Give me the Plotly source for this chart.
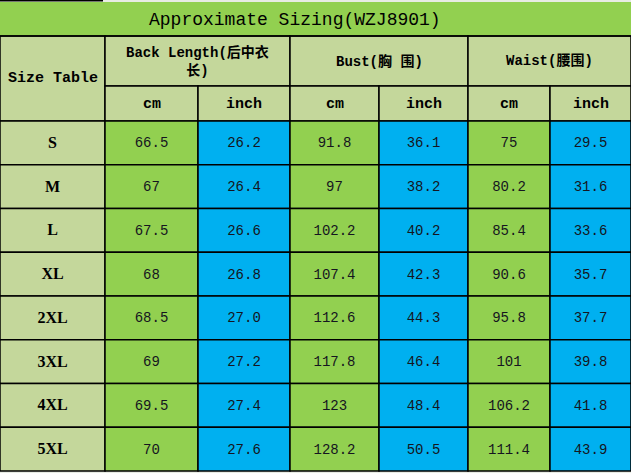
import plotly.graph_objects as go

# table contents
title = "Approximate Sizing(WZJ8901)"
corner_label = "Size Table"
groups = ["Back Length(后中衣<br>长)", "Bust(胸 围)", "Waist(腰围)"]
units = ["cm", "inch"]
sizes = ["S", "M", "L", "XL", "2XL", "3XL", "4XL", "5XL"]
back_cm = [66.5, 67, 67.5, 68, 68.5, 69, 69.5, 70]
back_inch = [26.2, 26.4, 26.6, 26.8, 27.0, 27.2, 27.4, 27.6]
bust_cm = [91.8, 97, 102.2, 107.4, 112.6, 117.8, 123, 128.2]
bust_inch = [36.1, 38.2, 40.2, 42.3, 44.3, 46.4, 48.4, 50.5]
waist_cm = [75, 80.2, 85.4, 90.6, 95.8, 101, 106.2, 111.4]
waist_inch = [29.5, 31.6, 33.6, 35.7, 37.7, 39.8, 41.8, 43.9]

W, H = 631, 473
col_edges = [0, 105, 198, 290, 379, 468, 550, 631]
title_top, title_bot = 2, 36
head1_bot, head2_bot = 86, 121
row_h = (471 - head2_bot) / len(sizes)
row_edges = [head2_bot + i * row_h for i in range(len(sizes) + 1)]

LIGHT = "#C4D79B"
GREEN = "#92D050"
BLUE = "#00B0F0"
MONO = "Liberation Mono, Noto Sans CJK SC, monospace"

shapes = []


def cell(x0, y0, x1, y1, fill, line=True):
    shapes.append(dict(type="rect", xref="x", yref="y", x0=x0, y0=y0, x1=x1, y1=y1,
                       fillcolor=fill, line=dict(color="black", width=1.5 if line else 0),
                       layer="below"))


# title band
cell(0, title_top, W, title_bot, GREEN, line=False)
shapes.append(dict(type="line", xref="x", yref="y", x0=0, x1=103, y0=0.8, y1=0.8,
                   line=dict(color="black", width=1.6)))
shapes.append(dict(type="line", xref="x", yref="y", x0=0, x1=W, y0=title_bot, y1=title_bot,
                   line=dict(color="black", width=1.5)))

# header cells
cell(col_edges[0], title_bot, col_edges[1], head2_bot, LIGHT)
for g in range(3):
    cell(col_edges[1 + 2 * g], title_bot, col_edges[3 + 2 * g], head1_bot, LIGHT)
    for u in range(2):
        cell(col_edges[1 + 2 * g + u], head1_bot, col_edges[2 + 2 * g + u], head2_bot, LIGHT)

columns = [back_cm, back_inch, bust_cm, bust_inch, waist_cm, waist_inch]
fills = [GREEN, BLUE, GREEN, BLUE, GREEN, BLUE]

fig = go.Figure()

# body cells
for r in range(len(sizes)):
    cell(col_edges[0], row_edges[r], col_edges[1], row_edges[r + 1], LIGHT)
    for c in range(len(columns)):
        cell(col_edges[c + 1], row_edges[r], col_edges[c + 2], row_edges[r + 1], fills[c])

row_mid = [(row_edges[r] + row_edges[r + 1]) / 2 + 1 for r in range(len(sizes))]

fig.add_trace(go.Scatter(
    x=[(col_edges[0] + col_edges[1]) / 2] * len(sizes), y=row_mid, text=sizes,
    mode="text", textfont=dict(family="Liberation Serif", size=16, color="black", weight="bold"),
    hoverinfo="skip"))

for c, vals in enumerate(columns):
    labels = [f"{v:.1f}" if c % 2 else f"{v:g}" for v in vals]
    fig.add_trace(go.Scatter(
        x=[(col_edges[c + 1] + col_edges[c + 2]) / 2] * len(vals), y=row_mid, text=labels,
        mode="text", textfont=dict(family=MONO, size=14, color="#151520"),
        hoverinfo="skip"))

annotations = [
    dict(x=295, y=(title_top + title_bot) / 2 + 1, text=title,
         font=dict(family=MONO, size=18, color="black")),
    dict(x=(col_edges[0] + col_edges[1]) / 2, y=(title_bot + head2_bot) / 2,
         text="<b>" + corner_label + "</b>", font=dict(family=MONO, size=15, color="black")),
]
for g, name in enumerate(groups):
    annotations.append(dict(x=(col_edges[1 + 2 * g] + col_edges[3 + 2 * g]) / 2,
                            y=(title_bot + head1_bot) / 2,
                            text="<b>" + name + "</b>",
                            font=dict(family=MONO, size=14, color="black")))
    for u, unit in enumerate(units):
        annotations.append(dict(x=(col_edges[1 + 2 * g + u] + col_edges[2 + 2 * g + u]) / 2,
                                y=(head1_bot + head2_bot) / 2 + 1,
                                text="<b>" + unit + "</b>",
                                font=dict(family=MONO, size=15, color="black")))
for a in annotations:
    a.update(xref="x", yref="y", showarrow=False)

fig.update_layout(
    width=W, height=H,
    margin=dict(l=0, r=0, t=0, b=0),
    paper_bgcolor="#E8ECE4", plot_bgcolor="#E8ECE4",
    showlegend=False,
    shapes=shapes, annotations=annotations,
    xaxis=dict(range=[0, W], visible=False, fixedrange=True),
    yaxis=dict(range=[H, 0], visible=False, fixedrange=True),
)

# the page body has a default margin that would push the table off the window
fig.write_html("out.html", config={"displayModeBar": False},
               post_script="document.body.style.margin='0';document.body.style.overflow='hidden';")
